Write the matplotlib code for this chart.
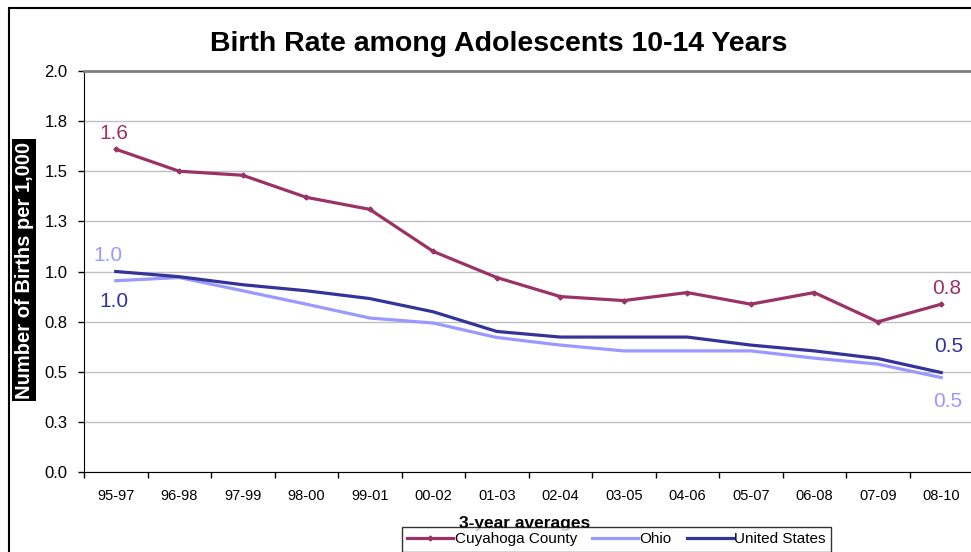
import numpy as np
import matplotlib
matplotlib.use("Agg")
import matplotlib.pyplot as plt

# data
periods = ["95-97", "96-98", "97-99", "98-00", "99-01", "00-02", "01-03",
           "02-04", "03-05", "04-06", "05-07", "06-08", "07-09", "08-10"]
cuyahoga = [1.61, 1.50, 1.48, 1.37, 1.31, 1.10, 0.97, 0.875, 0.855, 0.895, 0.837, 0.895, 0.749, 0.837]
ohio = [0.954, 0.970, 0.904, 0.837, 0.768, 0.743, 0.671, 0.633, 0.604, 0.604, 0.604, 0.568, 0.538, 0.471]
usa = [1.00, 0.974, 0.934, 0.904, 0.865, 0.799, 0.701, 0.673, 0.673, 0.673, 0.633, 0.604, 0.566, 0.496]
yticks = [0.0, 0.25, 0.5, 0.75, 1.0, 1.25, 1.5, 1.75, 2.0]
ytick_labels = ["0.0", "0.3", "0.5", "0.8", "1.0", "1.3", "1.5", "1.8", "2.0"]

c_cuy = "#993366"
c_ohio = "#9999ff"
c_us = "#333399"

plt.rcParams['font.family'] = ['Liberation Sans', 'DejaVu Sans']

fig = plt.figure(figsize=(9.71, 5.52), dpi=100)
ax = fig.add_axes([84 / 971, 1 - 472 / 552, 889 / 971, 401 / 552])

x = np.arange(len(periods))
ax.plot(x, cuyahoga, color=c_cuy, lw=2.3, marker="D", ms=2.5, label="Cuyahoga County", zorder=4)
ax.plot(x, ohio, color=c_ohio, lw=2.3, label="Ohio", zorder=3)
ax.plot(x, usa, color=c_us, lw=2.3, label="United States", zorder=3)

# data labels at the first and last points
lab = dict(fontsize=15, ha="center", va="center", textcoords="offset points")
ax.annotate(f"{cuyahoga[0]:.1f}", (x[0], cuyahoga[0]), xytext=(-1.5, 11), color=c_cuy, **lab)
ax.annotate(f"{ohio[0]:.1f}", (x[0], ohio[0]), xytext=(-5.8, 18.4), color=c_ohio, **lab)
ax.annotate(f"{usa[0]:.1f}", (x[0], usa[0]), xytext=(-1.4, -21.5), color=c_us, **lab)
ax.annotate(f"{cuyahoga[-1]:.1f}", (x[-1], cuyahoga[-1]), xytext=(3.8, 11.4), color=c_cuy, **lab)
ax.annotate(f"{usa[-1]:.1f}", (x[-1], usa[-1]), xytext=(5, 19), color=c_us, **lab)
ax.annotate(f"{ohio[-1]:.1f}", (x[-1], ohio[-1]), xytext=(4.3, -17), color=c_ohio, **lab)

ax.set_xlim(-0.5, len(periods) - 0.5)
ax.set_ylim(0, 2.0)
ax.set_yticks(yticks)
ax.set_yticklabels(ytick_labels, fontsize=12)
ax.tick_params(axis="y", length=4, width=1, pad=8, direction="out")

# category boundaries get the tick marks, labels sit in between
ax.set_xticks(np.arange(-0.5, len(periods), 1.0))
ax.set_xticklabels([])
ax.set_xticks(x, minor=True)
ax.set_xticklabels(periods, minor=True, fontsize=10.5)
ax.tick_params(axis="x", which="major", length=4, width=1, direction="out")
ax.tick_params(axis="x", which="minor", length=0, pad=12)

ax.yaxis.grid(True, color="#c0c0c0", lw=1)
ax.set_axisbelow(True)
ax.spines["top"].set_color("#808080")
ax.spines["top"].set_linewidth(2)
ax.spines["right"].set_visible(False)
ax.spines["left"].set_color("black")
ax.spines["bottom"].set_color("black")

fig.text(499 / 971, 1 - 44 / 552, "Birth Rate among Adolescents 10-14 Years",
         fontsize=20.5, fontweight="bold", ha="center", va="center")

fig.text(24 / 971, 1 - 270 / 552, "Number of Births per 1,000", rotation=90,
         fontsize=14.5, fontweight="bold", color="white", ha="center", va="center",
         bbox=dict(facecolor="black", edgecolor="none", pad=1.5))

fig.text(525 / 971, 1 - 528 / 552, "3-year averages", fontsize=12.5, fontweight="bold",
         ha="center", va="baseline", zorder=1)

leg = fig.legend(loc="upper left", bbox_to_anchor=(402 / 971, 1 - 527 / 552), ncol=3,
                 frameon=True, fancybox=False, edgecolor="black", fontsize=11,
                 handlelength=3.0, handletextpad=0.1, columnspacing=1.0, borderpad=0.35,
                 borderaxespad=0)
leg.get_frame().set_linewidth(1)
leg.set_zorder(5)

# outer chart frame
fig.add_artist(plt.Rectangle((9 / 971, -0.1), 1.2, (552 - 8) / 552 + 0.1,
                             transform=fig.transFigure, fill=False, ec="black", lw=1.5))

plt.savefig("out.png", dpi=100)
